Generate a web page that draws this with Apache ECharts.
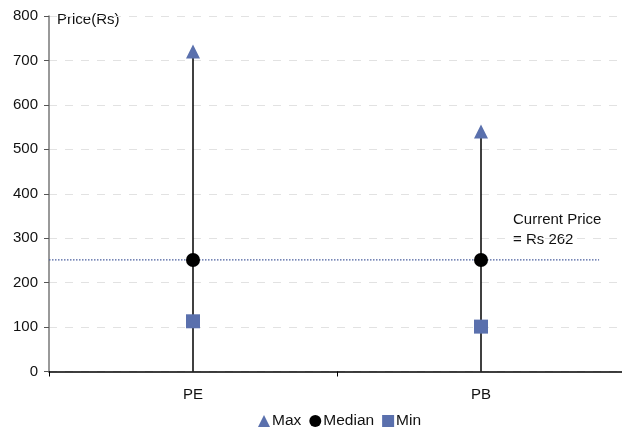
<!DOCTYPE html>
<html><head><meta charset="utf-8">
<script src="https://cdn.jsdelivr.net/npm/echarts@6/dist/echarts.min.js"></script>
<style>html,body{margin:0;padding:0;background:#fff;overflow:hidden}#c{width:630px;height:431px}</style>
</head><body><div id="c"></div>
<script>
var categories = ['PE', 'PB'];
var maxValues = [720, 540];
var medianValues = [251, 251];
var minValues = [113, 101];
var currentPriceLevel = 251;
var currentPriceExtent = [0, 1.91];
var yTicks = [0, 100, 200, 300, 400, 500, 600, 700, 800];

var blue = '#5a70ad';
var font = 'Liberation Sans, Arial, sans-serif';
var chart = echarts.init(document.getElementById('c'));
chart.setOption({
  animation: false,
  grid: {left: 49, width: 576, top: 16, bottom: 59.5, containLabel: false},
  xAxis: [{
    type: 'category', data: categories,
    axisLine: {lineStyle: {color: '#000', width: 1.5}},
    axisTick: {show: true, length: 5, lineStyle: {color: '#000'}, interval: 0},
    axisLabel: {color: '#111', fontFamily: font, fontSize: 15, margin: 16},
    splitLine: {show: false}
  }, {
    type: 'value', min: 0, max: 2, show: false
  }],
  yAxis: {
    type: 'value', min: yTicks[0], max: yTicks[yTicks.length - 1], interval: 100,
    axisLine: {show: true, lineStyle: {color: '#777', width: 1.5}},
    axisTick: {show: true, length: 5, lineStyle: {color: '#555'}},
    axisLabel: {color: '#111', fontFamily: font, fontSize: 15, margin: 11},
    splitLine: {show: true, lineStyle: {color: '#e2e2e2', type: [8, 8], width: 1}}
  },
  legend: {
    top: 408, left: 253, itemWidth: 12, itemHeight: 12, itemGap: 8,
    textStyle: {fontFamily: font, fontSize: 15.5, color: '#111', padding: [0, 0, 0, -3]},
    data: [{name: 'Max', icon: 'triangle'}, {name: 'Median', icon: 'circle'}, {name: 'Min', icon: 'rect'}]
  },
  series: [{
    type: 'bar', name: 'stem', data: maxValues, barWidth: 1.5,
    itemStyle: {color: '#000'}, silent: true, z: 1
  }, {
    type: 'line', name: 'current', xAxisIndex: 1,
    data: [[currentPriceExtent[0], currentPriceLevel], [currentPriceExtent[1], currentPriceLevel]],
    symbol: 'none', lineStyle: {color: '#4a5f9e', type: [1.5, 1.5], width: 1.2}, z: 2, silent: true
  }, {
    type: 'scatter', name: 'Max', data: maxValues, symbol: 'triangle', symbolSize: [14, 14],
    itemStyle: {color: blue, opacity: 1}, z: 5
  }, {
    type: 'scatter', name: 'Median', data: medianValues, symbol: 'circle', symbolSize: 14,
    itemStyle: {color: '#000', opacity: 1}, z: 5
  }, {
    type: 'scatter', name: 'Min', data: minValues, symbol: 'rect', symbolSize: 14,
    itemStyle: {color: blue, opacity: 1}, z: 5
  }],
  graphic: [{
    type: 'text', left: 57, top: 12,
    style: {text: 'Price(Rs)', font: '15px ' + font, fill: '#111'}
  }, {
    type: 'text', left: 513, top: 210,
    style: {text: 'Current Price\n= Rs 262', font: '15px ' + font, fill: '#111', lineHeight: 20}
  }]
});
</script></body></html>
